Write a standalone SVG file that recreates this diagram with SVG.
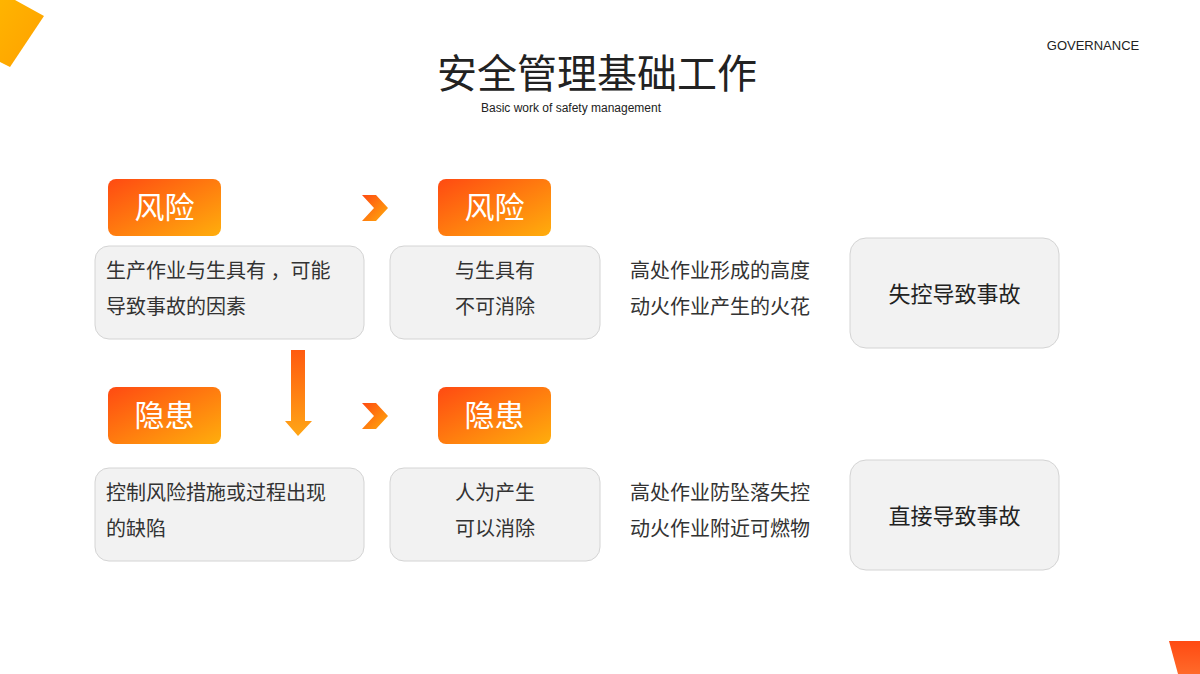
<svg xmlns="http://www.w3.org/2000/svg" width="1200" height="674" viewBox="0 0 1200 674">
<defs>
<linearGradient id="og" x1="0" y1="0" x2="1" y2="1"><stop offset="0" stop-color="#ff4a12"/><stop offset="1" stop-color="#ffae0c"/></linearGradient>
<linearGradient id="dg" x1="0" y1="0" x2="0" y2="1"><stop offset="0" stop-color="#ff5a10"/><stop offset="1" stop-color="#ffa616"/></linearGradient>
<linearGradient id="yg" x1="0" y1="0" x2="1" y2="1"><stop offset="0" stop-color="#ffb400"/><stop offset="1" stop-color="#ffa000"/></linearGradient>
<linearGradient id="rg" x1="0" y1="0" x2="0" y2="1"><stop offset="0" stop-color="#ff4a12"/><stop offset="1" stop-color="#ff6a2a"/></linearGradient>
<style>
.t{font-family:"Noto Sans CJK SC","Liberation Sans",sans-serif;}
.box{fill:#f2f2f2;stroke:#d4d4d4;stroke-width:1}
.lab{fill:url(#og)}
.lt{font-size:30px;fill:#fff;text-anchor:middle}
.bt{font-size:20px;fill:#333}
</style>
</defs>
<rect width="1200" height="674" fill="#fff"/>
<polygon points="15,0 44,16 10,67 0,62 0,0" fill="url(#yg)"/>
<polygon points="1169,641 1200,641 1200,674 1178,674" fill="url(#rg)"/>
<text class="t" x="597" y="88" font-size="40" fill="#222" text-anchor="middle">安全管理基础工作</text>
<text x="571" y="112" font-family="Liberation Sans,sans-serif" font-size="12" fill="#222" text-anchor="middle">Basic work of safety management</text>
<text x="1093" y="50" font-family="Liberation Sans,sans-serif" font-size="13" fill="#222" text-anchor="middle">GOVERNANCE</text>
<g id="connectors">
<polygon points="362,195 376,195 388,208 376,221 362,221 374,208" fill="url(#og)"/>
<polygon points="362,403 376,403 388,416 376,429 362,429 374,416" fill="url(#og)"/>
<polygon points="291,350 305,350 305,421 312,421 298,436 285,421 291,421" fill="url(#dg)"/>
</g>
<g id="n1"><rect class="lab" x="108" y="179" width="113" height="57" rx="8"/><text class="t lt" x="164.5" y="218">风险</text></g>
<g id="n2"><rect class="lab" x="438" y="179" width="113" height="57" rx="8"/><text class="t lt" x="494.5" y="218">风险</text></g>
<g id="n3"><rect class="lab" x="108" y="387" width="113" height="57" rx="8"/><text class="t lt" x="164.5" y="426">隐患</text></g>
<g id="n4"><rect class="lab" x="438" y="387" width="113" height="57" rx="8"/><text class="t lt" x="494.5" y="426">隐患</text></g>
<g id="n5"><rect class="box" x="95" y="246" width="269" height="93" rx="14"/><text class="t bt" x="106" y="278">生产作业与生具有 ，可能</text><text class="t bt" x="106" y="314">导致事故的因素</text></g>
<g id="n6"><rect class="box" x="390" y="246" width="210" height="93" rx="14"/><text class="t bt" x="495" y="278" text-anchor="middle">与生具有</text><text class="t bt" x="495" y="314" text-anchor="middle">不可消除</text></g>
<g id="n7"><rect class="box" x="95" y="468" width="269" height="93" rx="14"/><text class="t bt" x="106" y="500">控制风险措施或过程出现</text><text class="t bt" x="106" y="536">的缺陷</text></g>
<g id="n8"><rect class="box" x="390" y="468" width="210" height="93" rx="14"/><text class="t bt" x="495" y="500" text-anchor="middle">人为产生</text><text class="t bt" x="495" y="536" text-anchor="middle">可以消除</text></g>
<g id="n9"><text class="t bt" x="630" y="278">高处作业形成的高度</text><text class="t bt" x="630" y="314">动火作业产生的火花</text></g>
<g id="n10"><text class="t bt" x="630" y="500">高处作业防坠落失控</text><text class="t bt" x="630" y="536">动火作业附近可燃物</text></g>
<g id="n11"><rect class="box" x="850" y="238" width="209" height="110" rx="16"/><text class="t" x="954.5" y="302" font-size="22" fill="#222" text-anchor="middle">失控导致事故</text></g>
<g id="n12"><rect class="box" x="850" y="460" width="209" height="110" rx="16"/><text class="t" x="954.5" y="524" font-size="22" fill="#222" text-anchor="middle">直接导致事故</text></g>
</svg>
